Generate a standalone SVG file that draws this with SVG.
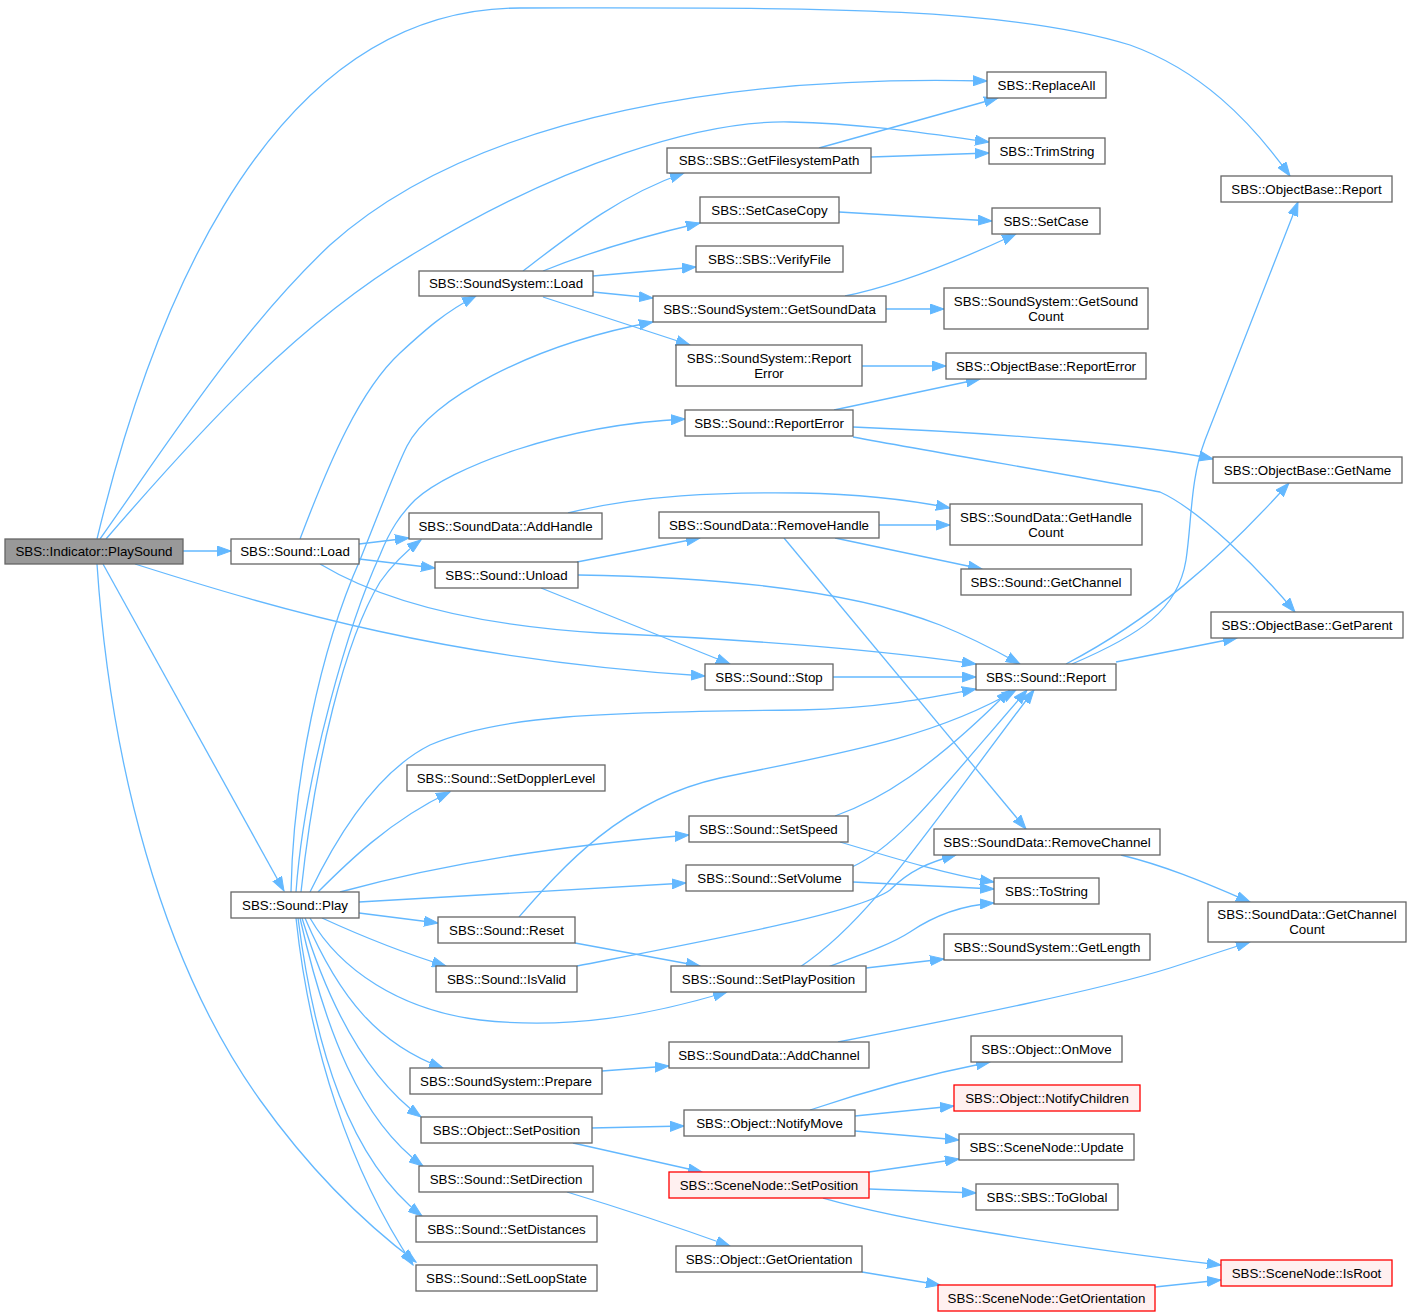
<svg xmlns="http://www.w3.org/2000/svg" width="1412" height="1316" viewBox="0 0 1412 1316">
<style>
.n rect{fill:#fff;stroke:#666;stroke-width:1.3}
.r rect{fill:#fff0f0;stroke:#f00;stroke-width:1.3}
.g rect{fill:#999;stroke:#666;stroke-width:1.3}
text{font-family:"Liberation Sans",Arial,sans-serif;font-size:13.33px;text-anchor:middle;fill:#000}
.e path{fill:none;stroke:#63b8ff;stroke-width:1.3;marker-end:url(#a)}
</style>
<defs>
<marker id="a" markerWidth="15" markerHeight="11" refX="14" refY="5.5" orient="auto" markerUnits="userSpaceOnUse">
<path d="M0,0.5 L14,5.5 L0,10.5 z" fill="#63b8ff" stroke="#63b8ff" stroke-width="1"/>
</marker>
</defs>
<rect width="1412" height="1316" fill="#fff"/>
<g id="edges" class="e">
<path d="M183,551 L231,551"/>
<path d="M103,564 L284,891"/>
<path d="M135,564 C280,610 450,660 705,676"/>
<path d="M97,539 C140,360 250,8 520,8 C800,8 1000,5 1130,45 C1200,70 1250,120 1290,176"/>
<path d="M100,539 C170,440 240,330 330,245 C480,110 750,75 987,81"/>
<path d="M106,539 C200,430 300,320 420,250 C560,165 700,120 790,122 C870,124 930,134 989,142"/>
<path d="M97,564 C110,760 160,960 260,1100 C310,1170 360,1220 416,1262"/>
<path d="M300,539 C330,460 360,390 400,353 C425,330 445,312 476,296"/>
<path d="M359,544 L409,538"/>
<path d="M359,559 L435,568"/>
<path d="M320,564 C380,600 470,625 600,633 C760,640 880,650 976,664"/>
<path d="M578,575 C720,577 850,590 940,625 C970,637 995,650 1020,664"/>
<path d="M541,588 L730,664"/>
<path d="M577,562 L700,538"/>
<path d="M833,677 L976,677"/>
<path d="M568,513 C640,495 720,492 800,493 C860,494 910,500 950,508"/>
<path d="M879,525 L950,525"/>
<path d="M835,538 L982,569"/>
<path d="M784,538 L1026,829"/>
<path d="M834,410 L980,379"/>
<path d="M853,427 C1000,433 1150,445 1213,459"/>
<path d="M853,437 C950,455 1100,480 1160,492 C1200,510 1260,570 1295,612"/>
<path d="M523,271 C570,235 620,195 684,173"/>
<path d="M543,271 C590,252 640,237 700,223"/>
<path d="M593,276 L696,267"/>
<path d="M593,292 L653,298"/>
<path d="M543,297 L690,345"/>
<path d="M819,148 L998,98"/>
<path d="M871,157 L989,153"/>
<path d="M839,212 L992,221"/>
<path d="M845,296 C900,285 960,260 1016,234"/>
<path d="M886,309 L944,309"/>
<path d="M862,366 L946,366"/>
<path d="M291,892 C293,780 320,650 360,560 C380,510 395,470 407,446 C430,400 530,345 653,322"/>
<path d="M296,892 C305,770 350,620 380,555 C390,530 400,515 415,500 C450,468 560,425 685,419"/>
<path d="M301,892 C315,760 345,640 380,582 C392,565 405,552 421,540"/>
<path d="M310,892 C340,830 380,770 430,745 C500,715 600,712 800,710 C880,708 930,698 976,689"/>
<path d="M318,892 C345,865 390,820 450,792"/>
<path d="M340,892 C450,862 560,846 689,835"/>
<path d="M359,902 L686,883"/>
<path d="M359,913 L438,923"/>
<path d="M322,918 C370,940 410,955 446,966"/>
<path d="M310,918 C340,970 400,1010 480,1020 C570,1030 650,1015 727,992"/>
<path d="M305,918 C340,1000 380,1045 443,1068"/>
<path d="M302,918 C330,1010 370,1080 421,1117"/>
<path d="M300,918 C325,1030 360,1120 423,1166"/>
<path d="M298,918 C315,1050 350,1160 422,1216"/>
<path d="M296,918 C310,1050 350,1170 413,1265"/>
<path d="M575,943 L700,966"/>
<path d="M519,917 C560,870 620,800 720,778 C830,755 930,740 1016,690"/>
<path d="M835,816 C880,800 930,770 1010,690"/>
<path d="M852,867 C900,845 940,790 1027,690"/>
<path d="M800,967 C870,920 920,840 1034,690"/>
<path d="M840,842 C900,860 950,875 994,882"/>
<path d="M853,882 L994,889"/>
<path d="M828,967 C860,955 890,945 910,932 C935,915 965,905 994,903"/>
<path d="M866,968 L944,959"/>
<path d="M577,966 C720,938 860,912 890,890 C910,870 930,862 956,855"/>
<path d="M1121,855 C1170,867 1210,885 1250,902"/>
<path d="M838,1042 C960,1018 1100,990 1170,968 C1200,958 1225,950 1250,942"/>
<path d="M602,1071 L669,1066"/>
<path d="M591,1128 L684,1126"/>
<path d="M573,1143 L702,1172"/>
<path d="M567,1192 C620,1208 680,1228 730,1246"/>
<path d="M810,1110 C860,1093 920,1076 990,1062"/>
<path d="M855,1116 L954,1106"/>
<path d="M855,1131 L959,1140"/>
<path d="M869,1172 L959,1159"/>
<path d="M869,1189 L976,1193"/>
<path d="M823,1198 C900,1220 1050,1245 1221,1265"/>
<path d="M862,1272 L940,1285"/>
<path d="M1155,1287 L1221,1280"/>
<path d="M1072,664 C1140,635 1178,610 1186,560 C1192,520 1190,480 1205,440 L1298,202"/>
<path d="M1066,664 C1150,620 1220,560 1289,483"/>
<path d="M1116,662 L1237,638"/>
</g>
<g id="n_playsound" class="g"><rect x="5" y="539" width="178" height="25"/><text x="94" y="556">SBS::Indicator::PlaySound</text></g>
<g id="n_sound_load" class="n"><rect x="231" y="539" width="128" height="25"/><text x="295" y="556">SBS::Sound::Load</text></g>
<g id="n_ss_load" class="n"><rect x="419" y="271" width="174" height="25"/><text x="506" y="288">SBS::SoundSystem::Load</text></g>
<g id="n_getfspath" class="n"><rect x="667" y="148" width="204" height="25"/><text x="769" y="165">SBS::SBS::GetFilesystemPath</text></g>
<g id="n_setcasecopy" class="n"><rect x="700" y="197" width="139" height="26"/><text x="769.5" y="214.7">SBS::SetCaseCopy</text></g>
<g id="n_verifyfile" class="n"><rect x="696" y="246" width="147" height="26"/><text x="769.5" y="263.7">SBS::SBS::VerifyFile</text></g>
<g id="n_getsounddata" class="n"><rect x="653" y="296" width="233" height="26"/><text x="769.5" y="313.7">SBS::SoundSystem::GetSoundData</text></g>
<g id="n_ss_reporterror" class="n"><rect x="676" y="345" width="186" height="41"/><text x="769" y="363">SBS::SoundSystem::Report</text><text x="769" y="378">Error</text></g>
<g id="n_replaceall" class="n"><rect x="987" y="72" width="119" height="26"/><text x="1046.5" y="89.7">SBS::ReplaceAll</text></g>
<g id="n_trimstring" class="n"><rect x="989" y="138" width="116" height="26"/><text x="1047" y="155.7">SBS::TrimString</text></g>
<g id="n_ob_report" class="n"><rect x="1221" y="176" width="171" height="26"/><text x="1306.5" y="193.7">SBS::ObjectBase::Report</text></g>
<g id="n_setcase" class="n"><rect x="992" y="208" width="108" height="26"/><text x="1046" y="225.7">SBS::SetCase</text></g>
<g id="n_getsoundcount" class="n"><rect x="944" y="288" width="204" height="41"/><text x="1046" y="306">SBS::SoundSystem::GetSound</text><text x="1046" y="321">Count</text></g>
<g id="n_ob_reporterror" class="n"><rect x="946" y="353" width="200" height="26"/><text x="1046" y="370.7">SBS::ObjectBase::ReportError</text></g>
<g id="n_sound_reporterror" class="n"><rect x="685" y="410" width="168" height="26"/><text x="769" y="427.7">SBS::Sound::ReportError</text></g>
<g id="n_getname" class="n"><rect x="1213" y="457" width="189" height="26"/><text x="1307.5" y="474.7">SBS::ObjectBase::GetName</text></g>
<g id="n_addhandle" class="n"><rect x="409" y="513" width="193" height="26"/><text x="505.5" y="530.7">SBS::SoundData::AddHandle</text></g>
<g id="n_removehandle" class="n"><rect x="659" y="512" width="220" height="26"/><text x="769" y="529.7">SBS::SoundData::RemoveHandle</text></g>
<g id="n_gethandlecount" class="n"><rect x="950" y="504" width="192" height="41"/><text x="1046" y="522">SBS::SoundData::GetHandle</text><text x="1046" y="537">Count</text></g>
<g id="n_unload" class="n"><rect x="435" y="562" width="143" height="26"/><text x="506.5" y="579.7">SBS::Sound::Unload</text></g>
<g id="n_getchannel" class="n"><rect x="961" y="569" width="170" height="26"/><text x="1046" y="586.7">SBS::Sound::GetChannel</text></g>
<g id="n_getparent" class="n"><rect x="1211" y="612" width="192" height="26"/><text x="1307" y="629.7">SBS::ObjectBase::GetParent</text></g>
<g id="n_stop" class="n"><rect x="705" y="664" width="128" height="26"/><text x="769" y="681.7">SBS::Sound::Stop</text></g>
<g id="n_report" class="n"><rect x="976" y="664" width="140" height="26"/><text x="1046" y="681.7">SBS::Sound::Report</text></g>
<g id="n_setdoppler" class="n"><rect x="407" y="765" width="198" height="26"/><text x="506" y="782.7">SBS::Sound::SetDopplerLevel</text></g>
<g id="n_setspeed" class="n"><rect x="689" y="816" width="159" height="26"/><text x="768.5" y="833.7">SBS::Sound::SetSpeed</text></g>
<g id="n_removechannel" class="n"><rect x="934" y="829" width="226" height="26"/><text x="1047" y="846.7">SBS::SoundData::RemoveChannel</text></g>
<g id="n_setvolume" class="n"><rect x="686" y="865" width="167" height="26"/><text x="769.5" y="882.7">SBS::Sound::SetVolume</text></g>
<g id="n_tostring" class="n"><rect x="994" y="878" width="105" height="26"/><text x="1046.5" y="895.7">SBS::ToString</text></g>
<g id="n_getchannelcount" class="n"><rect x="1208" y="902" width="198" height="40"/><text x="1307" y="919.3">SBS::SoundData::GetChannel</text><text x="1307" y="934.3">Count</text></g>
<g id="n_play" class="n"><rect x="231" y="892" width="128" height="26"/><text x="295" y="909.7">SBS::Sound::Play</text></g>
<g id="n_reset" class="n"><rect x="438" y="917" width="137" height="26"/><text x="506.5" y="934.7">SBS::Sound::Reset</text></g>
<g id="n_getlength" class="n"><rect x="944" y="934" width="206" height="26"/><text x="1047" y="951.7">SBS::SoundSystem::GetLength</text></g>
<g id="n_isvalid" class="n"><rect x="436" y="966" width="141" height="26"/><text x="506.5" y="983.7">SBS::Sound::IsValid</text></g>
<g id="n_setplaypos" class="n"><rect x="671" y="966" width="195" height="26"/><text x="768.5" y="983.7">SBS::Sound::SetPlayPosition</text></g>
<g id="n_addchannel" class="n"><rect x="669" y="1042" width="200" height="26"/><text x="769" y="1059.7">SBS::SoundData::AddChannel</text></g>
<g id="n_onmove" class="n"><rect x="971" y="1036" width="151" height="26"/><text x="1046.5" y="1053.7">SBS::Object::OnMove</text></g>
<g id="n_prepare" class="n"><rect x="410" y="1068" width="192" height="26"/><text x="506" y="1085.7">SBS::SoundSystem::Prepare</text></g>
<g id="n_notifychildren" class="r"><rect x="954" y="1085" width="186" height="26"/><text x="1047" y="1102.7">SBS::Object::NotifyChildren</text></g>
<g id="n_notifymove" class="n"><rect x="684" y="1110" width="171" height="26"/><text x="769.5" y="1127.7">SBS::Object::NotifyMove</text></g>
<g id="n_obj_setposition" class="n"><rect x="421" y="1117" width="171" height="26"/><text x="506.5" y="1134.7">SBS::Object::SetPosition</text></g>
<g id="n_update" class="n"><rect x="959" y="1134" width="175" height="26"/><text x="1046.5" y="1151.7">SBS::SceneNode::Update</text></g>
<g id="n_sn_setposition" class="r"><rect x="669" y="1172" width="200" height="26"/><text x="769" y="1189.7">SBS::SceneNode::SetPosition</text></g>
<g id="n_setdirection" class="n"><rect x="419" y="1166" width="174" height="26"/><text x="506" y="1183.7">SBS::Sound::SetDirection</text></g>
<g id="n_toglobal" class="n"><rect x="976" y="1184" width="142" height="26"/><text x="1047" y="1201.7">SBS::SBS::ToGlobal</text></g>
<g id="n_setdistances" class="n"><rect x="416" y="1216" width="181" height="26"/><text x="506.5" y="1233.7">SBS::Sound::SetDistances</text></g>
<g id="n_getorientation" class="n"><rect x="676" y="1246" width="186" height="26"/><text x="769" y="1263.7">SBS::Object::GetOrientation</text></g>
<g id="n_isroot" class="r"><rect x="1221" y="1260" width="171" height="26"/><text x="1306.5" y="1277.7">SBS::SceneNode::IsRoot</text></g>
<g id="n_setloopstate" class="n"><rect x="416" y="1265" width="181" height="26"/><text x="506.5" y="1282.7">SBS::Sound::SetLoopState</text></g>
<g id="n_sn_getorientation" class="r"><rect x="938" y="1285" width="217" height="26"/><text x="1046.5" y="1302.7">SBS::SceneNode::GetOrientation</text></g>
</svg>
